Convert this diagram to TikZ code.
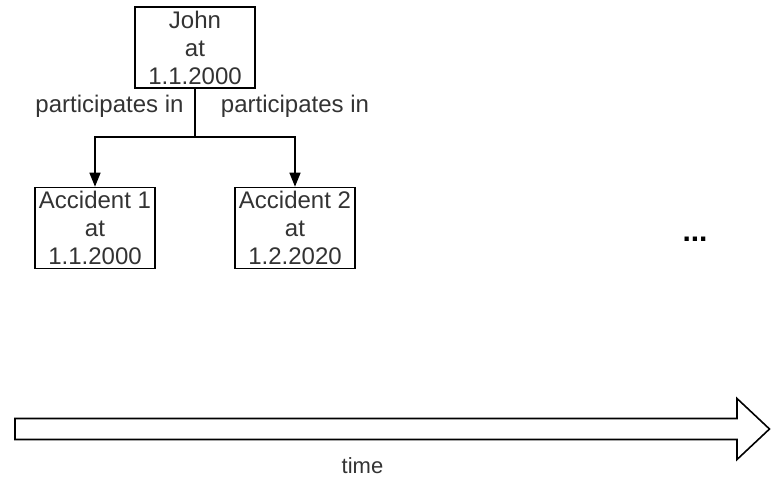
\documentclass[tikz,border=0pt]{standalone}
\usepackage{fontspec}
\setmainfont{Liberation Sans}
\usetikzlibrary{arrows.meta}
\definecolor{txt}{HTML}{333333}
\begin{document}
\begin{tikzpicture}[x=1pt,y=-1pt,
  box/.style={draw=black,line width=1.6pt,fill=white,minimum width=120pt,minimum height=81pt,inner sep=0pt,align=center,text=txt,font=\fontsize{24}{28}\selectfont},
  lbl/.style={text=txt,font=\fontsize{24}{28}\selectfont,inner sep=0pt},
  link/.style={draw=black,line width=1.4pt,-{Triangle[length=14pt,width=11pt]}}]
\useasboundingbox (0,0) rectangle (771,478);
\node[box] (john) at (195,47.5) {John\\at\\1.1.2000};
\node[box] (acc1) at (95,228) {Accident 1\\at\\1.1.2000};
\node[box] (acc2) at (295,228) {Accident 2\\at\\1.2.2020};
\coordinate (fork) at (195,137);
\draw[line width=1.4pt] (john.south) -- (fork);
\draw[link] (fork) -| (acc1.north);
\draw[link] (fork) -| (acc2.north);
\node[lbl] (l1) at (109.5,106) {participates in};
\node[lbl] (l2) at (295,106) {participates in};
\node[lbl,text=black,font=\fontsize{30}{34}\bfseries] (dots) at (695,239) {...};
\draw[line width=1.6pt,fill=white,line join=miter]
  (15,418.5) -- (737,418.5) -- (737,398.5) -- (769.5,429) -- (737,459.5) -- (737,439.5) -- (15,439.5) -- cycle;
\node[lbl,font=\fontsize{22}{26}\selectfont] (time) at (362.5,466) {time};
\end{tikzpicture}
\end{document}
